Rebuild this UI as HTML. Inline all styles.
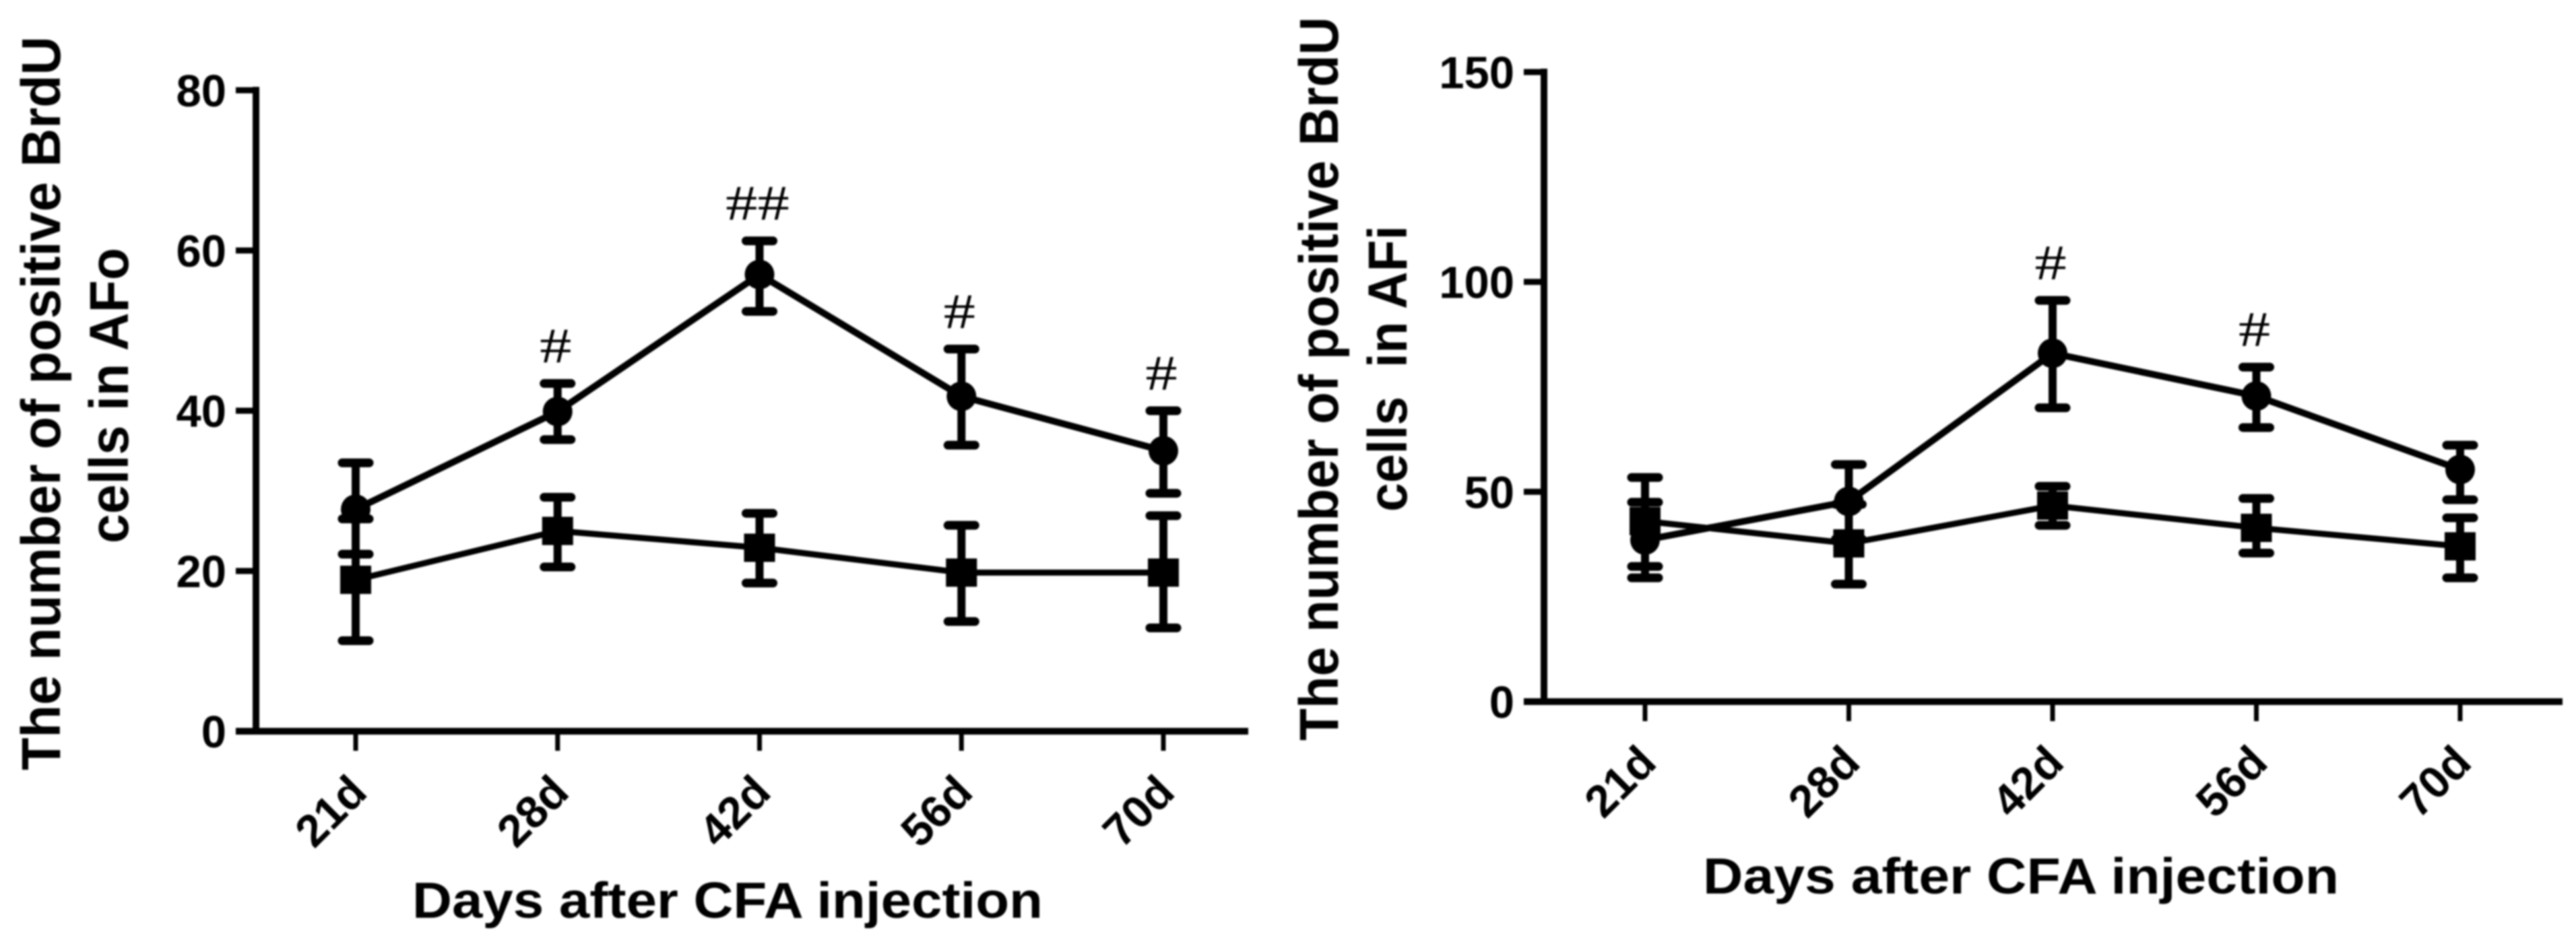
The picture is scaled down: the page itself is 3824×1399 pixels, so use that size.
<!DOCTYPE html>
<html lang="en">
<head>
<meta charset="utf-8">
<title>BrdU positive cells in AFo and AFi</title>
<style>
html,body{margin:0;padding:0;background:#fff;width:3824px;height:1399px;overflow:hidden}
#figure{display:block;filter:blur(1.4px)}
text{font-family:"Liberation Sans",Arial,sans-serif;font-weight:bold;fill:#000}
text.hash{font-family:"Liberation Serif","Times New Roman",serif;font-weight:normal}
</style>
</head>
<body>
<svg id="figure" xmlns="http://www.w3.org/2000/svg" width="3824" height="1399" viewBox="0 0 3824 1399">
  <rect width="3824" height="1399" fill="#fff"/>
  <g>
    <text transform="translate(89,1144) rotate(-90)" font-size="82" textLength="1090" lengthAdjust="spacingAndGlyphs">The number of positive BrdU</text>
    <text transform="translate(190,807) rotate(-90)" font-size="82" textLength="439" lengthAdjust="spacingAndGlyphs">cells in AFo</text>
    <text x="612" y="1363" font-size="75" textLength="936" lengthAdjust="spacingAndGlyphs">Days after CFA injection</text>
  </g>
  <g>
    <text transform="translate(1986,1100) rotate(-90)" font-size="82" textLength="1075" lengthAdjust="spacingAndGlyphs">The number of positive BrdU</text>
    <text transform="translate(2088,760) rotate(-90)" font-size="82" textLength="425" lengthAdjust="spacingAndGlyphs" xml:space="preserve">cells  in AFi</text>
    <text x="2528" y="1327" font-size="75" textLength="944" lengthAdjust="spacingAndGlyphs">Days after CFA injection</text>
  </g>
  <g id="afo-chart"></g>
  <g id="afi-chart"></g>
</svg>
<script>
// Shared categories
const categories = ['21d', '28d', '42d', '56d', '70d'];

// AFo chart data
const afoYTicks = [0, 20, 40, 60, 80];
const afoCircleMean = [27.7, 39.9, 57, 41.8, 35];
const afoCircleHigh = [33.5, 43.4, 61.2, 47.7, 40];
const afoCircleLow = [22.1, 36.4, 52.4, 35.7, 29.7];
const afoSquareMean = [18.9, 25, 22.9, 19.8, 19.8];
const afoSquareHigh = [26.5, 29.2, 27.2, 25.7, 26.9];
const afoSquareLow = [11.3, 20.5, 18.5, 13.7, 12.9];
const afoMarks = ['', '#', '##', '#', '#'];

// AFi chart data
const afiYTicks = [0, 50, 100, 150];
const afiCircleMean = [38.5, 47.7, 83, 72.8, 55.3];
const afiCircleHigh = [47.5, 56.5, 95.6, 79.7, 61.1];
const afiCircleLow = [29.5, 38.7, 70, 65.3, 48.1];
const afiSquareMean = [43, 37.7, 46.7, 41.4, 37];
const afiSquareHigh = [53.4, 47, 51.3, 48.4, 43.8];
const afiSquareLow = [32.2, 28, 42, 35.4, 29.5];
const afiMarks = ['', '', '#', '#', ''];

const SVG_NS = 'http://www.w3.org/2000/svg';

function make(parent, tag, name, attrs, content) {
  const el = document.createElementNS(SVG_NS, tag);
  
  
  for (const key in attrs) el.setAttribute(key, attrs[key]);
  if (content !== undefined) el.textContent = content;
  parent.appendChild(el);
  return el;
}

function drawChart(cfg) {
  const root = document.getElementById(cfg.id);
  const yMax = cfg.yTicks[cfg.yTicks.length - 1];
  const y = v => cfg.yBottom - (v / yMax) * (cfg.yBottom - cfg.yTop);
  const x = i => cfg.xFirst + i * cfg.xStep;

  // Axes
  const axisW = 10;
  make(root, 'line', cfg.prefix + '-y-axis', {x1: cfg.axisX, x2: cfg.axisX, y1: cfg.yTop - axisW / 2, y2: cfg.yBottom + axisW / 2, stroke: '#000', 'stroke-width': axisW});
  make(root, 'line', cfg.prefix + '-x-axis', {x1: cfg.axisX - 30, x2: cfg.xEnd, y1: cfg.yBottom, y2: cfg.yBottom, stroke: '#000', 'stroke-width': axisW});

  cfg.yTicks.forEach(t => {
    make(root, 'line', cfg.prefix + '-y-tick-' + t, {x1: cfg.axisX - 30, x2: cfg.axisX, y1: y(t), y2: y(t), stroke: '#000', 'stroke-width': 9});
    make(root, 'text', cfg.prefix + '-y-tick-label-' + t, {x: cfg.axisX - 44, y: y(t) + 24, 'font-size': 67, 'text-anchor': 'end'}, String(t));
  });

  categories.forEach((c, i) => {
    make(root, 'line', cfg.prefix + '-x-tick-' + c, {x1: x(i), x2: x(i), y1: cfg.yBottom, y2: cfg.yBottom + 29, stroke: '#000', 'stroke-width': 7});
    make(root, 'text', cfg.prefix + '-x-tick-label-' + c, {'text-anchor': 'end', 'font-size': 67, transform: 'translate(' + (x(i) + 20) + ',' + (cfg.yBottom + 94) + ') rotate(-45)'}, c);
  });

  // Series
  cfg.series.forEach(s => {
    const g = make(root, 'g', cfg.prefix + '-series-' + s.kind, {});
    s.mean.forEach((m, i) => {
      const e = make(g, 'g', cfg.prefix + '-error-bar-' + s.kind + '-' + categories[i], {stroke: '#000', 'stroke-linecap': 'round'});
      make(e, 'line', 'error-stem', {x1: x(i), x2: x(i), y1: y(s.high[i]), y2: y(s.low[i]), 'stroke-width': 12});
      make(e, 'line', 'error-cap-high', {x1: x(i) - 20, x2: x(i) + 20, y1: y(s.high[i]), y2: y(s.high[i]), 'stroke-width': 13});
      make(e, 'line', 'error-cap-low', {x1: x(i) - 20, x2: x(i) + 20, y1: y(s.low[i]), y2: y(s.low[i]), 'stroke-width': 13});
    });
    const pts = s.mean.map((m, i) => x(i) + ',' + y(m)).join(' ');
    make(g, 'polyline', cfg.prefix + '-line-' + s.kind, {points: pts, fill: 'none', stroke: '#000', 'stroke-width': s.kind === 'circle' ? 10 : 9, 'stroke-linejoin': 'round'});
    s.mean.forEach((m, i) => {
      const name = cfg.prefix + '-point-' + s.kind + '-' + categories[i];
      if (s.kind === 'circle') {
        make(g, 'circle', name, {cx: x(i), cy: y(m), r: 22, fill: '#000'});
      } else {
        make(g, 'rect', name, {x: x(i) - 23, y: y(m) - 21, width: 46, height: 42, fill: '#000'});
      }
    });
  });

  // Significance marks
  cfg.marks.forEach((mark, i) => {
    if (!mark) return;
    const high = cfg.series[0].high[i];
    make(root, 'text', cfg.prefix + '-significance-' + categories[i], {class: 'hash', 'font-size': 74, 'text-anchor': 'middle', transform: 'translate(' + (x(i) - 3) + ',' + (y(high) - 31) + ') scale(1.28,1)'}, mark);
  });
}

drawChart({
  id: 'afo-chart', prefix: 'afo',
  axisX: 380, xFirst: 528, xStep: 299.75, xEnd: 1853, yTop: 134, yBottom: 1086,
  yTicks: afoYTicks, marks: afoMarks,
  series: [
    {kind: 'circle', mean: afoCircleMean, high: afoCircleHigh, low: afoCircleLow},
    {kind: 'square', mean: afoSquareMean, high: afoSquareHigh, low: afoSquareLow}
  ]
});

drawChart({
  id: 'afi-chart', prefix: 'afi',
  axisX: 2292, xFirst: 2442, xStep: 302.5, xEnd: 3804, yTop: 107, yBottom: 1042,
  yTicks: afiYTicks, marks: afiMarks,
  series: [
    {kind: 'circle', mean: afiCircleMean, high: afiCircleHigh, low: afiCircleLow},
    {kind: 'square', mean: afiSquareMean, high: afiSquareHigh, low: afiSquareLow}
  ]
});
</script>
</body>
</html>
